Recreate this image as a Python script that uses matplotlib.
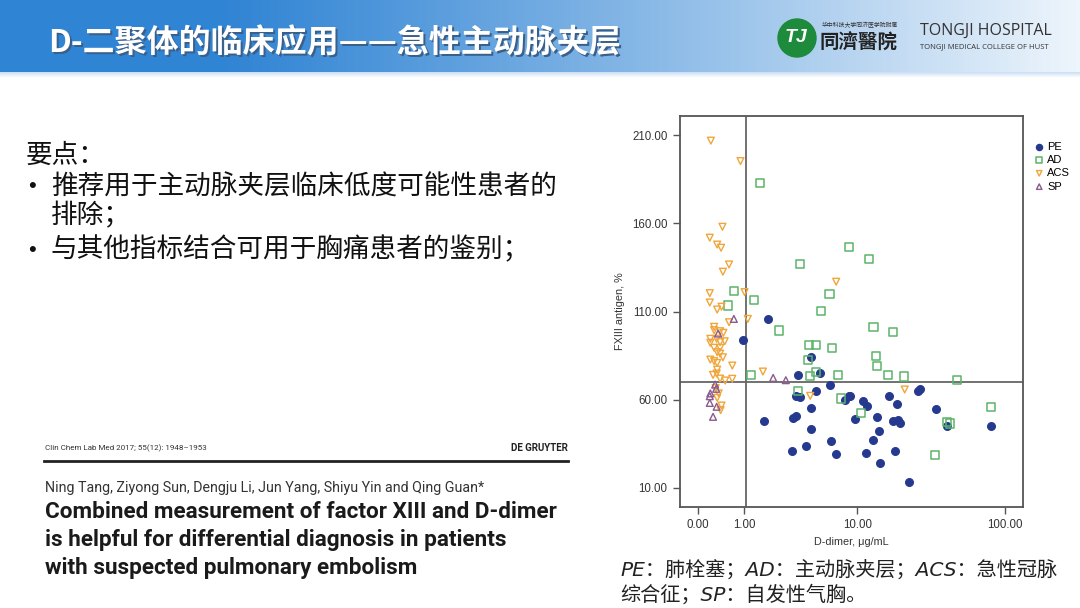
import numpy as np
import matplotlib.pyplot as plt
from matplotlib.patches import Circle

plt.rcParams['font.family'] = ['Liberation Sans', 'Noto Sans CJK SC']

# scatter data: D-dimer (ug/mL) and FXIII antigen (%)
pe_x = [1.88, 0.95, 4.48, 3.52, 5.21, 4.90, 6.26, 3.35, 3.64, 8.61, 8.18, 10.98, 11.67,
        4.48, 13.72, 9.62, 3.35, 3.16, 1.70, 4.48, 14.2, 13.0, 6.37, 4.03, 3.10, 6.94,
        11.53, 14.5, 26.5, 27.3, 8.85, 16.7, 18.9, 34.9, 17.9, 19.2, 19.9, 41.6, 81.2,
        18.4, 23.0]
pe_y = [105.8, 94.1, 84.3, 74.2, 75.2, 65.1, 68.0, 62.1, 61.5, 61.9, 59.6, 59.0, 56.6,
        55.3, 50.2, 49.2, 50.7, 49.4, 48.1, 43.5, 42.0, 37.3, 36.7, 33.5, 31.0, 29.3,
        29.5, 23.8, 64.7, 66.2, 62.3, 62.3, 57.2, 54.5, 48.1, 48.6, 46.9, 45.1, 45.1,
        30.6, 13.2]

ad_x = [1.53, 3.62, 8.7, 12.05, 0.72, 0.57, 1.31, 6.22, 5.37, 13.0, 2.37, 4.29, 4.88,
        6.51, 13.57, 13.7, 4.21, 4.88, 4.40, 7.19, 1.22, 3.50, 7.60, 10.63, 17.9, 16.4,
        21.2, 48.5, 81.6, 41.2, 43.4, 34.2]
ad_y = [182.9, 137.1, 146.4, 139.7, 121.8, 113.4, 116.3, 119.8, 110.4, 101.3, 99.2, 91.1,
        91.1, 89.2, 84.8, 79.1, 82.6, 75.5, 73.2, 74.0, 73.8, 65.1, 60.6, 52.6, 98.2, 74.0,
        73.1, 71.2, 55.8, 47.1, 46.4, 28.4]

acs_x = [0.21, 0.89, 0.44, 0.19, 0.33, 0.41, 0.59, 0.45, 0.19, 1.01, 0.19, 0.33, 0.42,
         0.59, 1.11, 6.98, 1.65, 4.40, 21.4, 0.27, 0.27, 0.39, 0.46, 0.20, 0.20, 0.32,
         0.39, 0.49, 0.27, 0.39, 0.33, 0.39, 0.20, 0.27, 0.33, 0.67, 0.33, 0.32, 0.39,
         0.50, 0.67, 0.30, 0.36, 0.33, 0.42, 0.40, 0.25, 0.45]
acs_y = [207.0, 195.4, 158.1, 151.9, 148.0, 146.2, 136.7, 132.6, 120.4, 121.0, 115.1,
         111.1, 112.7, 103.9, 105.8, 126.9, 75.9, 62.1, 65.7, 101.3, 99.4, 98.8, 97.9,
         94.5, 92.2, 94.5, 92.6, 93.1, 89.4, 89.4, 86.9, 86.1, 82.7, 81.8, 80.8, 79.3,
         77.0, 74.8, 71.9, 70.8, 71.8, 66.5, 63.5, 61.0, 56.6, 54.0, 74.0, 84.0]

sp_x = [0.71, 0.35, 2.09, 2.74, 0.29, 0.31, 0.20, 0.19, 0.19, 0.32, 0.25]
sp_y = [105.8, 97.5, 72.3, 71.0, 68.5, 66.1, 63.5, 61.9, 58.1, 55.9, 50.2]

x_ticks = [0, 1, 10, 100]
y_ticks = [10, 60, 110, 160, 210]
cut_x = 1.05
cut_y = 70

point_lines = ['推荐用于主动脉夹层临床低度可能性患者的', '排除；',
               '与其他指标结合可用于胸痛患者的鉴别；']
paper_title = ['Combined measurement of factor XIII and D-dimer',
               'is helpful for differential diagnosis in patients',
               'with suspected pulmonary embolism']


def fwd(x):
    with np.errstate(invalid='ignore', divide='ignore'):
        return np.log10(np.asarray(x, dtype=float) + 1)


def inv(y):
    return 10 ** np.asarray(y, dtype=float) - 1


fig = plt.figure(figsize=(10.8, 6.08), dpi=100)

# background / header gradient
bg = fig.add_axes([0, 0, 1, 1])
bg.set_xlim(0, 1080)
bg.set_ylim(608, 0)
bg.axis('off')
grad = np.linspace(0, 1, 256)
c0 = np.array([48, 132, 212]) / 255
c1 = np.array([238, 245, 252]) / 255
w = np.clip((grad - 0.2) / 0.8, 0, 1) ** 1.1
row = c0[None, :] * (1 - w[:, None]) + c1[None, :] * w[:, None]
bg.imshow(row[None, :, :], extent=[0, 1080, 72, 0], aspect='auto', zorder=0)
strip = np.linspace(0, 1, 8)[:, None, None] * np.ones((1, 2, 3))
strip = np.array([0.80, 0.88, 0.96]) * (1 - strip) + strip
bg.imshow(strip, extent=[0, 1080, 78, 72], aspect='auto', zorder=0)

title = 'D-二聚体的临床应用——急性主动脉夹层'
bg.text(50, 45, title, fontsize=23, fontweight='bold', color='#3a5f88', va='center',
        ha='left', family=['Noto Sans CJK SC', 'DejaVu Sans'])
bg.text(48, 43, title, fontsize=23, fontweight='bold', color='white', va='center',
        ha='left', family=['Noto Sans CJK SC', 'DejaVu Sans'])

# logo
bg.add_patch(Circle((797, 38), 19, color='#1d8a3c', zorder=2))
bg.text(796, 37, 'TJ', color='white', fontsize=14, fontweight='bold', style='italic',
        ha='center', va='center', zorder=3)
bg.text(822, 25, '华中科技大学同济医学院附属', fontsize=4.2, color='#333333', va='center',
        family=['Noto Sans CJK SC'])
bg.text(820, 43, '同濟醫院', fontsize=14, fontweight='bold', color='#222222', va='center',
        family=['Noto Sans CJK TC'])
bg.text(920, 31, 'TONGJI HOSPITAL', fontsize=11.5, color='#333333', va='center',
        family=['Open Sans'])
bg.text(920, 47, 'TONGJI MEDICAL COLLEGE OF HUST', fontsize=5.5, color='#333333', va='center',
        family=['Open Sans'])

# key points
cjk = ['Noto Sans CJK SC', 'DejaVu Sans']
bg.text(26, 155, '要点：', fontsize=19.2, va='center', family=cjk, color='#111111')
bg.text(28, 187, '•', fontsize=16, va='center', color='#111111')
bg.text(51, 187, point_lines[0], fontsize=19.2, va='center', family=cjk, color='#111111')
bg.text(51, 216, point_lines[1], fontsize=19.2, va='center', family=cjk, color='#111111')
bg.text(28, 250, '•', fontsize=16, va='center', color='#111111')
bg.text(51, 250, point_lines[2], fontsize=19.2, va='center', family=cjk, color='#111111')

# paper header
bg.text(45, 448, 'Clin Chem Lab Med 2017; 55(12): 1948–1953', fontsize=5.8, va='center',
        color='#333333', family=['Roboto'])
bg.text(568, 448, 'DE GRUYTER', fontsize=7, fontweight='bold', va='center', ha='right',
        color='#222222', family=['Roboto'])
bg.plot([44, 568], [461, 461], color='#222222', lw=2)
bg.text(45, 488, 'Ning Tang, Ziyong Sun, Dengju Li, Jun Yang, Shiyu Yin and Qing Guan*',
        fontsize=10.3, va='center', color='#333333', family=['Roboto'])
for i, line in enumerate(paper_title):
    bg.text(45, 512 + 28 * i, line, fontsize=16.2, fontweight='bold', va='center',
            color='#1a1a1a', family=['Roboto'])

# footnote
foot = ['PE：肺栓塞；AD：主动脉夹层；ACS：急性冠脉', '综合征；SP：自发性气胸。']
for i, line in enumerate(foot):
    bg.text(620, 570 + 24 * i, line, fontsize=14.5, va='center', style='italic',
            family=['DejaVu Sans', 'Noto Sans CJK SC'], color='#222222')

# scatter plot
ax = fig.add_axes([680 / 1080, 1 - 507 / 608, 343 / 1080, 391 / 608])
ax.set_xscale('function', functions=(fwd, inv))
ax.scatter(pe_x, pe_y, s=30, marker='o', color='#25398f', label='PE', zorder=3)
ax.scatter(ad_x, ad_y, s=34, marker='s', facecolors='none', edgecolors='#5cb46a',
           linewidths=1.1, label='AD', zorder=3)
ax.scatter(acs_x, acs_y, s=24, marker='v', facecolors='none', edgecolors='#f0a63a',
           linewidths=1.0, label='ACS', zorder=3)
ax.scatter(sp_x, sp_y, s=24, marker='^', facecolors='none', edgecolors='#8b5a8e',
           linewidths=1.0, label='SP', zorder=3)
ax.axvline(cut_x, color='#666666', lw=1.3, zorder=2)
ax.axhline(cut_y, color='#666666', lw=1.3, zorder=2)
ax.set_xlim(-0.24, 132)
ax.set_ylim(-1, 221)
ax.set_xticks(x_ticks)
ax.set_xticklabels(['%.2f' % t for t in x_ticks])
ax.set_yticks(y_ticks)
ax.set_yticklabels(['%.2f' % t for t in y_ticks])
ax.minorticks_off()
for s in ax.spines.values():
    s.set_color('#555555')
    s.set_linewidth(1.3)
ax.tick_params(direction='out', length=5, width=1, color='#555555', labelsize=8.3,
               labelcolor='#333333', pad=4)
ax.set_xlabel('D-dimer, μg/mL', fontsize=7.8, color='#333333', labelpad=4)
ax.set_ylabel('FXIII antigen, %', fontsize=7.8, color='#333333', labelpad=5)
fig.legend(loc='upper left', bbox_to_anchor=(1027 / 1080, 1 - 136 / 608), frameon=False,
           fontsize=8, handletextpad=0.1, labelspacing=0.3, borderpad=0,
           handlelength=1.2, markerscale=0.8)

fig.savefig('out.png', dpi=100)
